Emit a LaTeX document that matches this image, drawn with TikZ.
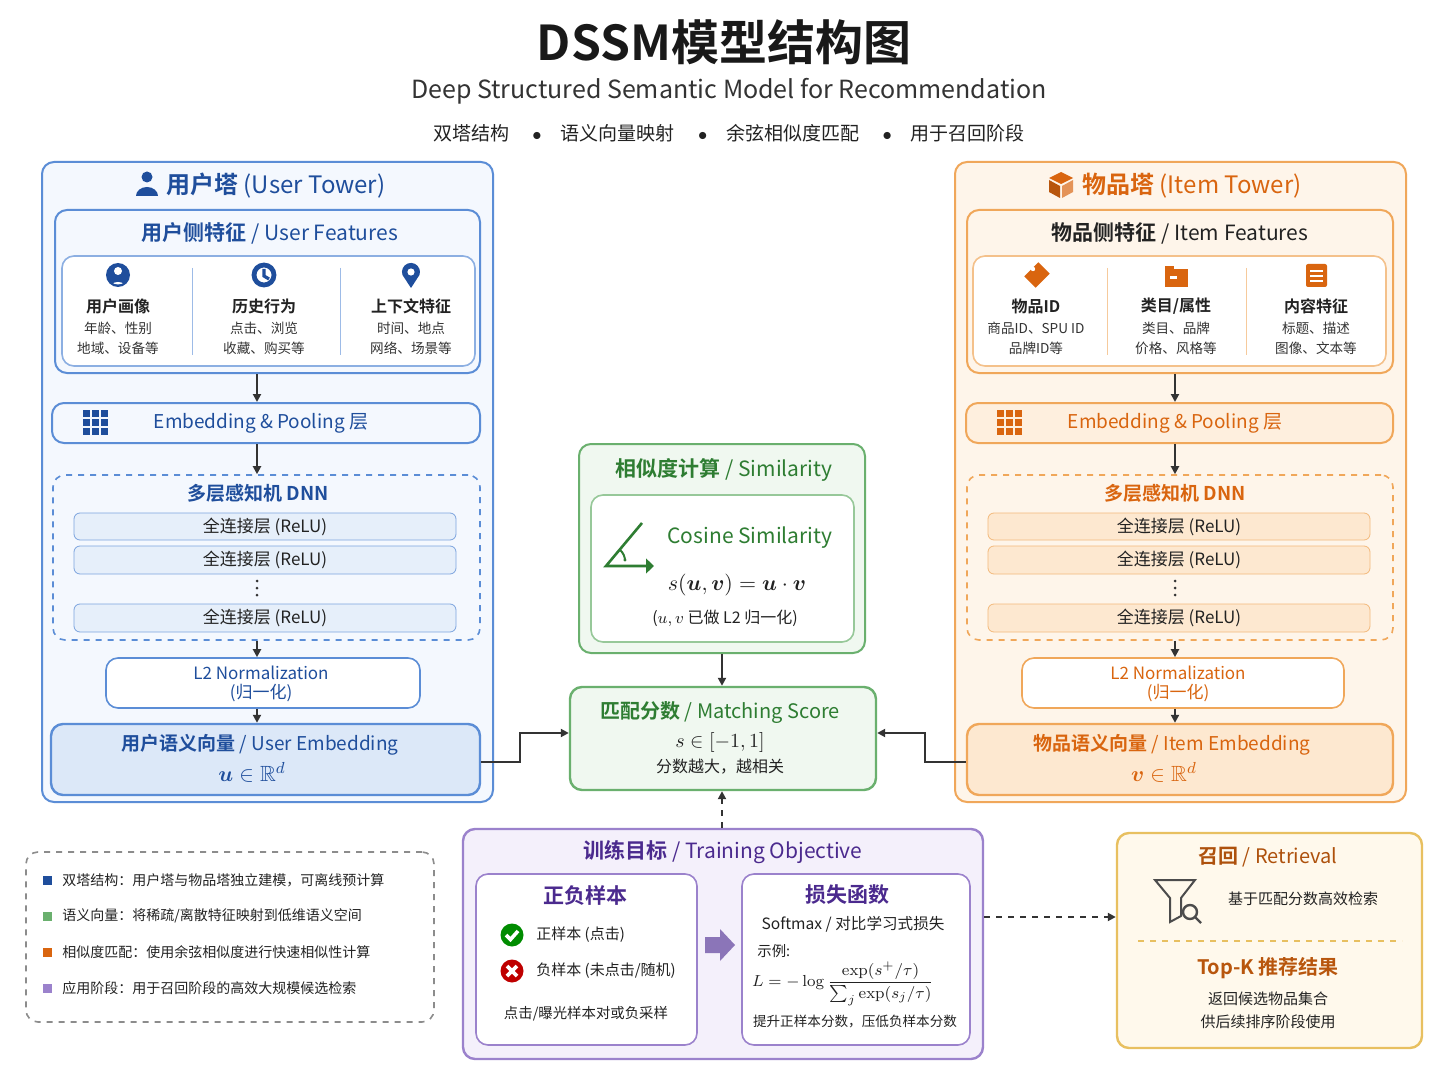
\documentclass[tikz,border=0pt]{standalone}
\usepackage{amsmath,amssymb,bm}
\usepackage[no-math]{fontspec}
\setmainfont{Noto Sans CJK SC}[BoldFont={Noto Sans CJK SC Bold}]
\usetikzlibrary{arrows.meta,shapes.geometric}
\definecolor{bD}{HTML}{1F4E9C}\definecolor{bB}{HTML}{5B8DD6}\definecolor{bF}{HTML}{F4F8FE}\definecolor{bF2}{HTML}{DCE8F8}
\definecolor{oD}{HTML}{D9650F}\definecolor{oB}{HTML}{F0A75A}\definecolor{oF}{HTML}{FEF5EA}\definecolor{oF2}{HTML}{FDE8D0}
\definecolor{gD}{HTML}{2E7D32}\definecolor{gB}{HTML}{6AB06E}\definecolor{gF}{HTML}{F0F8F0}
\definecolor{pD}{HTML}{4B2A8E}\definecolor{pB}{HTML}{9B82CC}\definecolor{pF}{HTML}{F4F0FB}
\definecolor{yB}{HTML}{E8C060}\definecolor{yF}{HTML}{FFF9EC}\definecolor{txt}{HTML}{222222}\definecolor{sub}{HTML}{333333}
\newcommand\bx[6]{\node[#6, minimum width={(#4-#2)*0.5pt}, minimum height={(#5-#3)*0.5pt}, inner sep=0pt] (#1) at ({(#2+#4)/2},{(#3+#5)/2}) {};}
\tikzset{
 box/.style={draw, rounded corners=6pt, line width=0.8pt},
 arr/.style={-{Triangle[length=4pt,width=4pt]}, line width=1pt, draw=black!80},
 t/.style={inner sep=0pt, text=txt},
}
\begin{document}
\begin{tikzpicture}[x=0.5pt,y=-0.5pt]
\useasboundingbox[fill=white] (0,0) rectangle (1448,1086);
% titles
\node[t,font=\fontsize{24}{24}\selectfont\bfseries,text=black!90] (title) at (724,42) {DSSM模型结构图};
\node[t,font=\fontsize{12.5}{13}\selectfont,text=sub] (subt) at (729,91) {Deep Structured Semantic Model for Recommendation};
\node[t,font=\fontsize{9.5}{10}\selectfont] (tag) at (729,133) {双塔结构 \quad$\bullet$\quad 语义向量映射 \quad$\bullet$\quad 余弦相似度匹配 \quad$\bullet$\quad 用于召回阶段};

% ===== USER TOWER =====
\bx{ut}{42}{162}{493}{802}{box,draw=bB,fill=bF,line width=1pt}
\fill[bD] (147,177) circle (5.5);
\fill[bD] (136,196) arc (180:360:11 and 9) -- cycle;
\node[t,font=\fontsize{12}{12}\selectfont\bfseries,text=bD,anchor=west] (utt) at (166,186) {用户塔 \mdseries(User Tower)};
\bx{uf}{55}{210}{480}{373}{box,draw=bB,fill=bF,line width=1pt}
\node[t,font=\fontsize{10.5}{11}\selectfont,text=bD] (uft) at (270,233) {\bfseries 用户侧特征 \mdseries/ User Features};
\bx{ufi}{62}{256}{475}{366}{box,draw=bB!70,fill=white}
\draw[bB!60] (192,268)--(192,355) (340,268)--(340,355);
% icons
\fill[bD] (118,275) circle (12); \fill[white] (118,271) circle (4);
\begin{scope}\clip (118,275) circle (9.5); \fill[white] (118,289) ellipse (9 and 7);\end{scope}
\draw[bD,line width=2.4pt,fill=white] (264,275) circle (10); \draw[bD,line width=1.6pt] (264,269)--(264,276)--(269,279);
\fill[bD] (411,288) -- (402.5,275) arc (160:380:9) -- cycle; \fill[white] (411,272) circle (3.6);
\foreach \x/\a/\b/\c in {118/{用户画像}/{年龄、性别}/{地域、设备等}, 264/{历史行为}/{点击、浏览}/{收藏、购买等}, 411/{上下文特征}/{时间、地点}/{网络、场景等}}{
 \node[t,font=\fontsize{8}{8}\selectfont\bfseries] at (\x,306) {\a};
 \node[t,font=\fontsize{6.8}{7}\selectfont,text=sub] at (\x,328) {\b};
 \node[t,font=\fontsize{6.8}{7}\selectfont,text=sub] at (\x,348) {\c};}
\bx{ue}{52}{403}{480}{443}{box,draw=bB,fill=bF,line width=1pt}
\foreach \i in {0,1,2}\foreach \j in {0,1,2}\fill[bD] ({83+\i*9},{410+\j*9}) rectangle ++(7,7);
\node[t,font=\fontsize{9.5}{10}\selectfont,text=bD] (uet) at (261,423) {Embedding \& Pooling 层};
\bx{ud}{53}{475}{480}{640}{box,draw=bB,dashed,fill=bF}
\node[t,font=\fontsize{9.5}{10}\selectfont\bfseries,text=bD] (udt) at (258,493) {多层感知机 DNN};
\bx{uf1}{74}{513}{456}{540}{draw=bB!80,fill=bF2!70,rounded corners=3pt}
\bx{uf2}{74}{546}{456}{574}{draw=bB!80,fill=bF2!70,rounded corners=3pt}
\bx{uf3}{74}{604}{456}{632}{draw=bB!80,fill=bF2!70,rounded corners=3pt}
\foreach \n in {uf1,uf2,uf3}\node[t,font=\fontsize{8.5}{9}\selectfont] at (\n) {全连接层 (ReLU)};
\foreach \yy in {581,588,595}\fill[black!80] (257,\yy) circle (1.5);
\bx{ul}{106}{658}{420}{708}{box,draw=bB,fill=white}
\node[t,font=\fontsize{8.5}{9}\selectfont,text=bD] at (261,673) {L2 Normalization};
\node[t,font=\fontsize{8.5}{9}\selectfont,text=bD] at (261,693) {(归一化)};
\bx{uv}{51}{724}{480}{795}{box,draw=bB,fill=bF2,line width=1.2pt}
\node[t,font=\fontsize{9.5}{10}\selectfont,text=bD] at (260,745) {\bfseries 用户语义向量 \mdseries/ User Embedding};
\node[t,font=\fontsize{11}{11}\selectfont,text=bD] at (252,772) {$\bm u\in\mathbb R^{d}$};
\draw[arr] (uf.south -| 257,0) -- (ue.north -| 257,0);
\draw[arr] (ue.south -| 257,0) -- (ud.north -| 257,0);
\draw[arr] (ud.south -| 257,0) -- (ul.north -| 257,0);
\draw[arr] (ul.south -| 257,0) -- (uv.north -| 257,0);

% ===== ITEM TOWER =====
\bx{it}{955}{162}{1406}{802}{box,draw=oB,fill=oF,line width=1pt}
\fill[oD] (1061,172)--(1073,178)--(1061,184)--(1049,178)--cycle;
\fill[oD!85!black] (1049,180)--(1060,186)--(1060,198)--(1049,192)--cycle;
\fill[oD!70] (1062,186)--(1073,180)--(1073,192)--(1062,198)--cycle;
\node[t,font=\fontsize{12}{12}\selectfont\bfseries,text=oD,anchor=west] (itt) at (1082,186) {物品塔 \mdseries(Item Tower)};
\bx{if}{967}{210}{1393}{373}{box,draw=oB,fill=oF,line width=1pt}
\node[t,font=\fontsize{10.5}{11}\selectfont,text=txt] (ift) at (1180,233) {\bfseries 物品侧特征 \mdseries/ Item Features};
\bx{ifi}{973}{256}{1386}{366}{box,draw=oB!70,fill=white}
\draw[oB!60] (1107,268)--(1107,355) (1246,268)--(1246,355);
\fill[oD,rotate around={-45:(1037,275)}] (1029,265) rectangle (1045,285); \fill[white] (1033,269) circle (2.2);
\fill[oD] (1165,266) rectangle (1174,270); \fill[oD] (1165,269) rectangle (1188,287); \fill[white] (1170,276) rectangle (1177,279);
\fill[oD,rounded corners=1pt] (1306,264) rectangle (1327,287); \foreach \yy in {270,275,280}\fill[white] (1310,\yy) rectangle (1323,\yy+2);
\foreach \x/\a/\b/\c in {1036/{物品ID}/{商品ID、SPU ID}/{品牌ID等}, 1176/{类目/属性}/{类目、品牌}/{价格、风格等}, 1316/{内容特征}/{标题、描述}/{图像、文本等}}{
 \node[t,font=\fontsize{8}{8}\selectfont\bfseries] at (\x,306) {\a};
 \node[t,font=\fontsize{6.8}{7}\selectfont,text=sub] at (\x,328) {\b};
 \node[t,font=\fontsize{6.8}{7}\selectfont,text=sub] at (\x,348) {\c};}
\bx{ie}{966}{403}{1393}{443}{box,draw=oB,fill=oF2!70,line width=1pt}
\foreach \i in {0,1,2}\foreach \j in {0,1,2}\fill[oD] ({997+\i*9},{410+\j*9}) rectangle ++(7,7);
\node[t,font=\fontsize{9.5}{10}\selectfont,text=oD] (iet) at (1175,423) {Embedding \& Pooling 层};
\bx{id}{967}{475}{1393}{640}{box,draw=oB,dashed,fill=oF}
\node[t,font=\fontsize{9.5}{10}\selectfont\bfseries,text=oD] (idt) at (1175,493) {多层感知机 DNN};
\bx{if1}{988}{513}{1370}{540}{draw=oB!80,fill=oF2,rounded corners=3pt}
\bx{if2}{988}{546}{1370}{574}{draw=oB!80,fill=oF2,rounded corners=3pt}
\bx{if3}{988}{604}{1370}{632}{draw=oB!80,fill=oF2,rounded corners=3pt}
\foreach \n in {if1,if2,if3}\node[t,font=\fontsize{8.5}{9}\selectfont] at (\n) {全连接层 (ReLU)};
\foreach \yy in {581,588,595}\fill[black!80] (1175,\yy) circle (1.5);
\bx{il}{1022}{658}{1344}{708}{box,draw=oB,fill=white}
\node[t,font=\fontsize{8.5}{9}\selectfont,text=oD] at (1178,673) {L2 Normalization};
\node[t,font=\fontsize{8.5}{9}\selectfont,text=oD] at (1178,693) {(归一化)};
\bx{iv}{967}{724}{1393}{795}{box,draw=oB,fill=oF2,line width=1.2pt}
\node[t,font=\fontsize{9.5}{10}\selectfont,text=oD] at (1172,745) {\bfseries 物品语义向量 \mdseries/ Item Embedding};
\node[t,font=\fontsize{11}{11}\selectfont,text=oD] at (1164,772) {$\bm v\in\mathbb R^{d}$};
\draw[arr] (if.south -| 1175,0) -- (ie.north -| 1175,0);
\draw[arr] (ie.south -| 1175,0) -- (id.north -| 1175,0);
\draw[arr] (id.south -| 1175,0) -- (il.north -| 1175,0);
\draw[arr] (il.south -| 1175,0) -- (iv.north -| 1175,0);

% ===== SIMILARITY =====
\bx{sim}{579}{444}{865}{653}{box,draw=gB,fill=gF,line width=1pt}
\node[t,font=\fontsize{10.5}{11}\selectfont,text=gD] at (724,470) {\bfseries 相似度计算 \mdseries/ Similarity};
\bx{simi}{591}{495}{854}{642}{box,draw=gB!70,fill=white}
\draw[gD,line width=1.3pt,-{Triangle[length=4pt]}] (642,523)--(606,566)--(654,566);
\draw[gD,line width=1pt] (620,550) arc (-50:0:14);
\fill[gD] (625,560) circle (1.6);
\node[t,font=\fontsize{10.5}{11}\selectfont,text=gD] at (750,538) {Cosine Similarity};
\node[t,font=\fontsize{10.5}{10}\selectfont] at (737,585) {$s(\bm u,\bm v)=\bm u\cdot\bm v$};
\node[t,font=\fontsize{8}{8}\selectfont] at (725,618) {($u,v$ 已做 L2 归一化)};

% ===== MATCHING =====
\bx{ms}{570}{687}{876}{790}{box,draw=gB,fill=gF,line width=1.2pt}
\node[t,font=\fontsize{10}{10}\selectfont,text=gD] at (720,712) {\bfseries 匹配分数 \mdseries/ Matching Score};
\node[t,font=\fontsize{10}{10}\selectfont] at (720,742) {$s\in[-1,1]$};
\node[t,font=\fontsize{8}{8}\selectfont] at (720,767) {分数越大，越相关};
\draw[arr] (sim.south -| 722,0) -- (ms.north -| 722,0);
\coordinate (ua) at (520,762); \coordinate (ia) at (925,762);
\draw[arr,line width=1.3pt] (uv.east |- ua) -| (520,733) -- (ms.west |- 0,733);
\draw[arr,line width=1.3pt] (iv.west |- ia) -| (925,733) -- (ms.east |- 0,733);

% ===== TRAINING =====
\bx{tr}{463}{829}{983}{1059}{box,draw=pB,fill=pF,line width=1.2pt}
\node[t,font=\fontsize{10.5}{11}\selectfont,text=pD] at (723,852) {\bfseries 训练目标 \mdseries/ Training Objective};
\draw[arr,dashed] (tr.north -| 722,0) -- (ms.south -| 722,0);
\bx{tl}{476}{874}{697}{1045}{box,draw=pB,fill=white}
\bx{trr}{742}{874}{970}{1045}{box,draw=pB,fill=white}
\node[t,font=\fontsize{10.5}{11}\selectfont\bfseries,text=pD] at (585,895) {正负样本};
\fill[green!55!black] (512,935) circle (11.5); \draw[white,line width=1.8pt] (506,935)--(510.5,939.5)--(518,931);
\fill[red!75!black] (512,971) circle (11.5); \draw[white,line width=1.8pt] (507,966)--(517,976) (517,966)--(507,976);
\node[t,font=\fontsize{7.5}{8}\selectfont,anchor=west] at (536,935) {正样本 (点击)};
\node[t,font=\fontsize{7.5}{8}\selectfont,anchor=west] at (536,971) {负样本 (未点击/随机)};
\node[t,font=\fontsize{7.2}{8}\selectfont] at (586,1014) {点击/曝光样本对或负采样};
\fill[pB!90!black] (705,937) rectangle (720,953) (720,929)--(735,945)--(720,961)--cycle;
\node[t,font=\fontsize{10.5}{11}\selectfont\bfseries,text=pD] at (847,895) {损失函数};
\node[t,font=\fontsize{7.8}{8}\selectfont] at (853,924) {Softmax / 对比学习式损失};
\node[t,font=\fontsize{7.2}{8}\selectfont,anchor=west] at (757,951) {示例:};
\node[t,font=\fontsize{8.5}{9}\selectfont] at (843,984) {$L=-\log\dfrac{\exp(s^{+}/\tau)}{\sum_j\exp(s_j/\tau)}$};
\node[t,font=\fontsize{6.8}{7}\selectfont] at (855,1021) {提升正样本分数，压低负样本分数};

% ===== LEGEND =====
\bx{lg}{26}{852}{434}{1022}{box,draw=black!45,dashed,fill=white}
\foreach \yy/\c/\s in {880/bD/{双塔结构：用户塔与物品塔独立建模，可离线预计算}, 916/gB/{语义向量：将稀疏/离散特征映射到低维语义空间}, 952/oD/{相似度匹配：使用余弦相似度进行快速相似性计算}, 988/pB/{应用阶段：用于召回阶段的高效大规模候选检索}}{
 \fill[\c] (43,\yy-4.5) rectangle ++(9,9);
 \node[t,font=\fontsize{7}{7}\selectfont,anchor=west] at (62,\yy) {\s};}

% ===== RETRIEVAL =====
\bx{rt}{1117}{833}{1422}{1048}{box,draw=yB,fill=yF,line width=1.2pt}
\draw[arr,dashed] (tr.east |- 0,917) -- (rt.west |- 0,917);
\node[t,font=\fontsize{10}{10}\selectfont,text=oD!80!black] at (1268,857) {\bfseries 召回 \mdseries/ Retrieval};
\draw[black!70,line width=1pt] (1155,880)--(1195,880)--(1181,898)--(1181,916)--(1170,922)--(1170,898)--cycle;
\draw[black!70,line width=1.2pt] (1190,912) circle (7) (1195,917)--(1201,923);
\node[t,font=\fontsize{7.5}{8}\selectfont] at (1303,899) {基于匹配分数高效检索};
\draw[yB,dashed,line width=0.9pt] (1138,941)--(1402,941);
\node[t,font=\fontsize{10}{10}\selectfont\bfseries,text=oD!85!black] at (1268,968) {Top-K 推荐结果};
\node[t,font=\fontsize{7.5}{8}\selectfont] at (1268,999) {返回候选物品集合};
\node[t,font=\fontsize{7.5}{8}\selectfont] at (1268,1022) {供后续排序阶段使用};
\end{tikzpicture}
\end{document}
